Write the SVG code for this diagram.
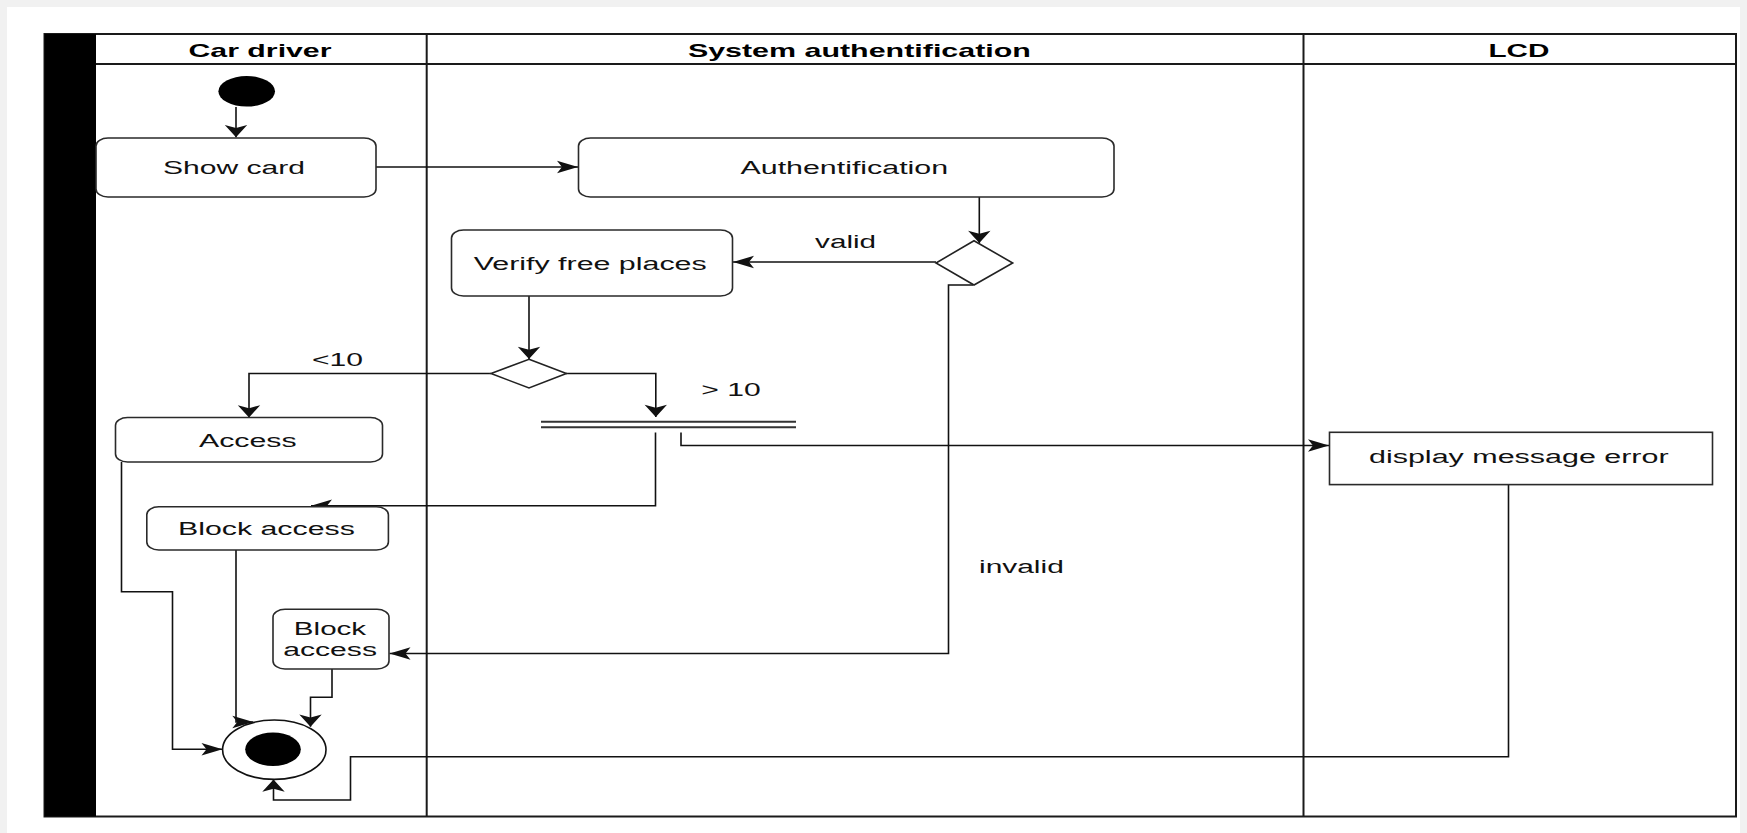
<svg xmlns="http://www.w3.org/2000/svg" width="1747" height="833" viewBox="0 0 1747 833">
<defs>
<style>
.lane{fill:none;stroke:#1a1a1a;stroke-width:2}
.box{fill:#fff;stroke:#2a2a2a;stroke-width:1.6}
.dia{fill:#fff;stroke:#222;stroke-width:1.6}
.edge{fill:none;stroke:#111;stroke-width:1.6}
.bar{fill:none;stroke:#333;stroke-width:2}
.t{font-family:"Liberation Sans",Arial,sans-serif;font-size:18px;fill:#111;text-anchor:middle}
.h{font-family:"Liberation Sans",Arial,sans-serif;font-size:19px;font-weight:bold;fill:#000;text-anchor:middle}
</style>
<marker id="mh" markerUnits="userSpaceOnUse" markerWidth="21" markerHeight="12.4" refX="21" refY="6.2" orient="auto" overflow="visible"><path d="M0,0 L21,6.2 L0,12.4 L5,6.2 Z" fill="#111"/></marker>
<marker id="mv" markerUnits="userSpaceOnUse" markerWidth="12.3" markerHeight="22.4" refX="12.3" refY="11.2" orient="auto" overflow="visible"><path d="M0,0 L12.3,11.2 L0,22.4 L3,11.2 Z" fill="#111"/></marker>
</defs>
<rect x="0" y="0" width="1747" height="833" fill="#f1f1f1"/>
<rect x="7" y="7" width="1733" height="826" fill="#fff"/>
<g id="swimlanes">
<rect x="44.5" y="34" width="1691.5" height="782.5" fill="#fff" class="lane"/>
<rect x="44.5" y="34" width="51.5" height="782.5" fill="#000"/>
<path class="lane" d="M96,64 H1736 M426.7,34 V816.5 M1303.5,34 V816.5"/>
<text class="h" x="260" y="56.7" textLength="143" lengthAdjust="spacingAndGlyphs">Car driver</text>
<text class="h" x="859.4" y="56.7" textLength="343" lengthAdjust="spacingAndGlyphs">System authentification</text>
<text class="h" x="1519" y="56.7" textLength="61" lengthAdjust="spacingAndGlyphs">LCD</text>
</g>
<g id="connectors">
<path class="edge" d="M236,107 V137.3" marker-end="url(#mv)"/>
<path class="edge" d="M376,167 H578" marker-end="url(#mh)"/>
<path class="edge" d="M979.3,197 V243" marker-end="url(#mv)"/>
<path class="edge" d="M936,262 H733" marker-end="url(#mh)"/>
<path class="edge" d="M973,285 H948.5 V653.5 H389.5" marker-end="url(#mh)"/>
<path class="edge" d="M529,296 V359" marker-end="url(#mv)"/>
<path class="edge" d="M491,373.5 H249 V417.5" marker-end="url(#mv)"/>
<path class="edge" d="M566,373.5 H655.8 V417" marker-end="url(#mv)"/>
<path class="edge" d="M655.5,432.5 V505.7 H311" marker-end="url(#mh)"/>
<path class="edge" d="M681,432.5 V445.5 H1329" marker-end="url(#mh)"/>
<path class="edge" d="M121.5,462 V591.7 H172.5 V749.3 H222.5" marker-end="url(#mh)"/>
<path class="edge" d="M236,550 V722 H253.3" marker-end="url(#mh)"/>
<path class="edge" d="M332,669 V697.3 H310.5 V726.7" marker-end="url(#mv)"/>
<path class="edge" d="M1508.5,484.7 V756.7 H350.5 V800 H273.5 V779.5" marker-end="url(#mv)"/>
<text class="t" x="845.6" y="247.7" font-size="17" textLength="61" lengthAdjust="spacingAndGlyphs">valid</text>
<text class="t" x="337.4" y="366" font-size="17" textLength="51" lengthAdjust="spacingAndGlyphs">&lt;10</text>
<text class="t" x="731" y="395.7" font-size="17" textLength="59.4" lengthAdjust="spacingAndGlyphs">&gt; 10</text>
<text class="t" x="1021.4" y="572.7" font-size="17" textLength="84.8" lengthAdjust="spacingAndGlyphs">invalid</text>
</g>
<g id="start">
<ellipse cx="246.7" cy="91.3" rx="28.3" ry="15.3" fill="#000"/>
</g>
<g id="show-card">
<rect class="box" x="96" y="138" width="280" height="59" rx="12" ry="8"/>
<text class="t" x="234" y="174" textLength="142" lengthAdjust="spacingAndGlyphs">Show card</text>
</g>
<g id="authentification">
<rect class="box" x="578.5" y="138" width="535.5" height="59" rx="12" ry="8"/>
<text class="t" x="844.3" y="174" textLength="207.6" lengthAdjust="spacingAndGlyphs">Authentification</text>
</g>
<g id="decision-auth">
<polygon class="dia" points="974,240.7 1012.7,263 974,285 936,263"/>
</g>
<g id="verify-free-places">
<rect class="box" x="451.5" y="230" width="281" height="66" rx="12" ry="8"/>
<text class="t" x="590.2" y="270" textLength="233" lengthAdjust="spacingAndGlyphs">Verify free places</text>
</g>
<g id="decision-places">
<polygon class="dia" points="529,359.3 566.4,373.5 529,388 491,373.5"/>
</g>
<g id="join-bar">
<path class="bar" d="M541,421.7 H796 M541,427.3 H796"/>
</g>
<g id="access">
<rect class="box" x="115.5" y="417.5" width="267" height="44.5" rx="12" ry="8"/>
<text class="t" x="247.8" y="446.7" textLength="97.6" lengthAdjust="spacingAndGlyphs">Access</text>
</g>
<g id="block-access-1">
<rect class="box" x="146.8" y="506.7" width="241.6" height="43.3" rx="12" ry="8"/>
<text class="t" x="266.4" y="535" textLength="176.8" lengthAdjust="spacingAndGlyphs">Block access</text>
</g>
<g id="block-access-2">
<rect class="box" x="273" y="609.3" width="116" height="59.7" rx="12" ry="8"/>
<text class="t" x="330" y="635" textLength="72.3" lengthAdjust="spacingAndGlyphs">Block</text>
<text class="t" x="330.1" y="655.7" textLength="93.8" lengthAdjust="spacingAndGlyphs">access</text>
</g>
<g id="display-message-error">
<rect class="box" x="1329.5" y="432.3" width="383" height="52.3"/>
<text class="t" x="1518.8" y="463.3" textLength="299.6" lengthAdjust="spacingAndGlyphs">display message error</text>
</g>
<g id="final">
<ellipse cx="274.3" cy="749.7" rx="51.7" ry="29.7" fill="#fff" stroke="#111" stroke-width="1.6"/>
<ellipse cx="273" cy="749.3" rx="27.8" ry="16.7" fill="#000"/>
</g>
</svg>
